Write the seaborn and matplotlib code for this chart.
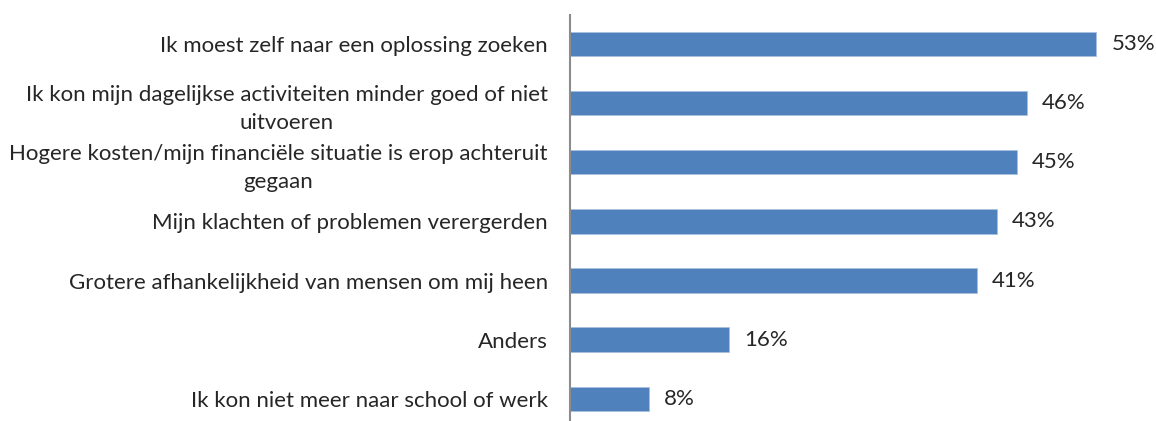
import matplotlib
matplotlib.use("Agg")
import matplotlib.pyplot as plt
import seaborn as sns
import pandas as pd

categories = [
    "Ik moest zelf naar een oplossing zoeken",
    "Ik kon mijn dagelijkse activiteiten minder goed of niet\nuitvoeren",
    "Hogere kosten/mijn financiële situatie is erop achteruit\ngegaan",
    "Mijn klachten of problemen verergerden",
    "Grotere afhankelijkheid van mensen om mij heen",
    "Anders",
    "Ik kon niet meer naar school of werk",
]
values = [53, 46, 45, 43, 41, 16, 8]

df = pd.DataFrame({"categorie": categories, "waarde": values})

sns.set_style("white")
plt.rcParams["font.family"] = ["Lato", "DejaVu Sans"]

fig = plt.figure(figsize=(11.56, 4.21), dpi=100)
ax = fig.add_axes([0.493, -0.017, 0.507, 0.982])

sns.barplot(data=df, x="waarde", y="categorie", color="#4F81BD", width=0.41,
            saturation=1, edgecolor="#A9C0DE", linewidth=0.6, ax=ax)

ax.set_xlim(0, 59)
ax.set_xlabel("")
ax.set_ylabel("")
ax.set_xticks([])
for s in ["top", "right", "bottom"]:
    ax.spines[s].set_visible(False)
ax.spines["left"].set_color("#8C8C8C")
ax.spines["left"].set_linewidth(1.5)

ax.tick_params(axis="y", length=0, pad=16, labelsize=16)
for lbl in ax.get_yticklabels():
    lbl.set_multialignment("center")
    lbl.set_linespacing(1.5)

for i, v in enumerate(values):
    ax.text(v + 1.5, i, f"{v}%", va="center", ha="left", fontsize=16)

fig.savefig("out.png", dpi=100)
